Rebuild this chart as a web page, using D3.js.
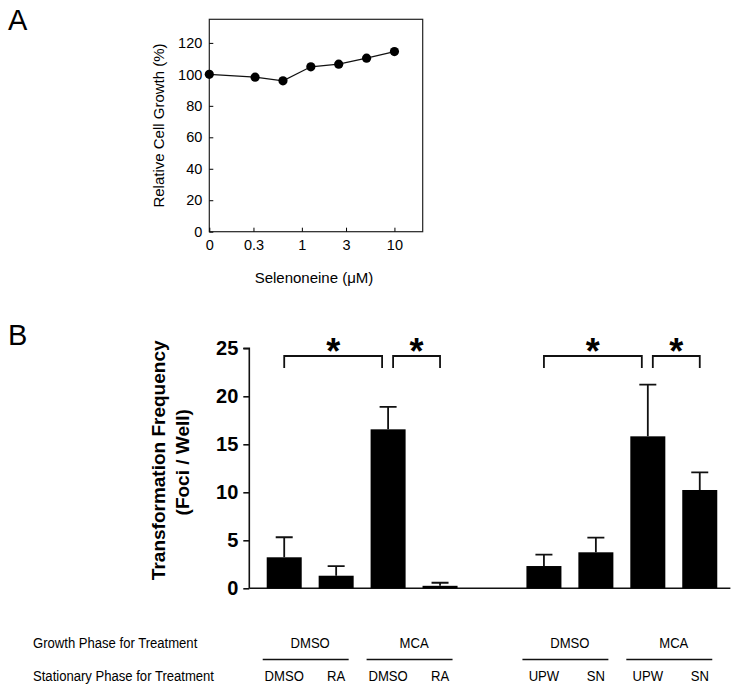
<!DOCTYPE html>
<html>
<head>
<meta charset="utf-8">
<script src="https://cdn.jsdelivr.net/npm/d3@7"></script>
<style>
  body { margin: 0; background: #fff; }
  svg { display: block; font-family: "Liberation Sans", Arial, sans-serif; }
</style>
</head>
<body>
<svg id="chart" width="740" height="687"></svg>
<script>
// Panel A: relative cell growth vs selenoneine
const concentrations = [0, 0.3125, 0.625, 1.25, 2.5, 5, 10];
const cellGrowth = [100, 98.2, 95.9, 104.8, 106.5, 110.3, 114.5];
const concTicks = [0, 0.3, 1, 3, 10];
const growthTicks = [0, 20, 40, 60, 80, 100, 120];

// Panel B: transformation frequency
const slots = ["s1", "s2", "s3", "s4", "gap", "s5", "s6", "s7", "s8"];
const barSlots = ["s1", "s2", "s3", "s4", "s5", "s6", "s7", "s8"];
const foci = [3.23, 1.31, 16.56, 0.26, 2.32, 3.75, 15.83, 10.24];
const fociSd = [2.09, 0.99, 2.34, 0.32, 1.18, 1.52, 5.38, 1.84];
const fociTicks = [0, 5, 10, 15, 20, 25];
const growthPhase = ["DMSO", "MCA", "DMSO", "MCA"];
const stationaryPhase = ["DMSO", "RA", "DMSO", "RA", "UPW", "SN", "UPW", "SN"];
const sigPairs = [["s1", "s3"], ["s3", "s4"], ["s5", "s7"], ["s7", "s8"]];

const svg = d3.select("#chart");

// ---------- Panel A ----------
const ax = { left: 209.3, right: 422.7, top: 19.3, bottom: 231.7 };
const xA = d3.scaleLog().domain([0.1, 20.2]).range([ax.left, ax.right]);
const xPos = v => xA(v === 0 ? 0.1 : v);
const yA = d3.scaleLinear().domain([0, 135]).range([ax.bottom, ax.top]);

svg.append("text").attr("x", 8).attr("y", 30)
  .attr("font-size", 29).text("A");

const gA = svg.append("g");
gA.append("rect")
  .attr("x", ax.left).attr("y", ax.top)
  .attr("width", ax.right - ax.left).attr("height", ax.bottom - ax.top)
  .attr("fill", "none").attr("stroke", "#222").attr("stroke-width", 1.2);

gA.append("g")
  .attr("transform", `translate(${ax.left},0)`)
  .call(d3.axisLeft(yA).tickValues(growthTicks).tickSize(-4).tickPadding(7))
  .call(g => g.select(".domain").remove())
  .call(g => g.selectAll("text").attr("font-size", 14.5).attr("font-family", "Liberation Sans"));

gA.append("g")
  .attr("transform", `translate(0,${ax.bottom})`)
  .call(d3.axisBottom(xA).tickValues(concTicks.map(v => v === 0 ? 0.1 : v))
    .tickFormat((d, i) => concTicks[i]).tickSize(-4).tickPadding(8))
  .call(g => g.select(".domain").remove())
  .call(g => g.selectAll("text").attr("font-size", 14.5).attr("font-family", "Liberation Sans"));

const ptsA = concentrations.map((c, i) => [c, cellGrowth[i]]);
gA.append("path")
  .datum(ptsA)
  .attr("fill", "none").attr("stroke", "#111").attr("stroke-width", 1.2)
  .attr("d", d3.line().x(d => xPos(d[0])).y(d => yA(d[1])));
gA.selectAll("circle").data(ptsA).join("circle")
  .attr("cx", d => xPos(d[0])).attr("cy", d => yA(d[1]))
  .attr("r", 4.6).attr("fill", "#000");

svg.append("text")
  .attr("transform", `translate(164,${(ax.top + ax.bottom) / 2}) rotate(-90)`)
  .attr("text-anchor", "middle").attr("font-size", 15)
  .text("Relative Cell Growth (%)");
svg.append("text")
  .attr("x", 314).attr("y", 283)
  .attr("text-anchor", "middle").attr("font-size", 15)
  .text("Selenoneine (\u03BCM)");

// ---------- Panel B ----------
const bx = { left: 249.3, right: 730.4, top: 348.3, bottom: 588.3 };
const xB = d3.scaleBand().domain(slots).range([bx.left, bx.right])
  .paddingInner(0.326).paddingOuter(0.294).align(0.57);
const yB = d3.scaleLinear().domain([0, 25]).range([bx.bottom, bx.top]);
const cx = s => xB(s) + xB.bandwidth() / 2;

svg.append("text").attr("x", 8).attr("y", 345)
  .attr("font-size", 29).text("B");

const gB = svg.append("g");
gB.append("g")
  .attr("transform", `translate(${bx.left},0)`)
  .call(d3.axisLeft(yB).tickValues(fociTicks).tickSize(6).tickPadding(5))
  .call(g => g.selectAll("line, path").attr("stroke", "#111").attr("stroke-width", 1.6))
  .call(g => g.select(".domain").attr("d", `M-6,${bx.top}H0V${bx.bottom}`))
  .call(g => g.selectAll("text").attr("font-size", 20).attr("font-weight", "bold")
    .attr("font-family", "Liberation Sans"));

gB.append("line")
  .attr("x1", bx.left).attr("x2", bx.right)
  .attr("y1", yB(0)).attr("y2", yB(0))
  .attr("stroke", "#111").attr("stroke-width", 1.6);

const bars = barSlots.map((s, i) => ({ slot: s, v: foci[i], sd: fociSd[i] }));

gB.selectAll(".err").data(bars).join("path")
  .attr("class", "err")
  .attr("fill", "none").attr("stroke", "#111").attr("stroke-width", 1.8)
  .attr("d", d => `M${cx(d.slot)},${yB(d.v)}V${yB(d.v + d.sd)}` +
    `M${cx(d.slot) - 8.5},${yB(d.v + d.sd)}H${cx(d.slot) + 8.5}`);

gB.selectAll(".bar").data(bars).join("rect")
  .attr("class", "bar")
  .attr("x", d => xB(d.slot)).attr("width", xB.bandwidth())
  .attr("y", d => yB(d.v)).attr("height", d => yB(0) - yB(d.v))
  .attr("fill", "#000");

// significance brackets
const brTop = yB(24.2), brEnd = yB(22.95);
sigPairs.forEach(([a, b], i) => {
  const x1 = cx(a) + (i % 2 === 1 ? 5 : 0);
  const x2 = cx(b) - (i % 2 === 0 ? 6 : 0);
  gB.append("path")
    .attr("fill", "none").attr("stroke", "#111").attr("stroke-width", 1.8)
    .attr("d", `M${x1},${brEnd}V${brTop}H${x2}V${brEnd}`);
  gB.append("text")
    .attr("x", (x1 + x2) / 2).attr("y", brTop + 8)
    .attr("text-anchor", "middle").attr("font-size", 36).attr("font-weight", "bold")
    .text("*");
});

svg.append("text")
  .attr("transform", `translate(165,${(bx.top + bx.bottom) / 2 - 8}) rotate(-90)`)
  .attr("text-anchor", "middle").attr("font-size", 19).attr("font-weight", "bold")
  .text("Transformation Frequency");
svg.append("text")
  .attr("transform", `translate(188.5,${(bx.top + bx.bottom) / 2 - 6}) rotate(-90)`)
  .attr("text-anchor", "middle").attr("font-size", 19).attr("font-weight", "bold")
  .text("(Foci / Well)");

// treatment table (narrow-looking text)
const tbl = svg.append("g").attr("font-size", 15.5);
const narrow = (x, y, anchor, txt) => tbl.append("text")
  .attr("transform", `translate(${x},${y}) scale(0.845,1)`)
  .attr("text-anchor", anchor).text(txt);

narrow(33, 648, "start", "Growth Phase for Treatment");
narrow(33, 680.5, "start", "Stationary Phase for Treatment");

growthPhase.forEach((g, i) => {
  const a = barSlots[i * 2], b = barSlots[i * 2 + 1];
  const mid = (cx(a) + cx(b)) / 2;
  narrow(mid, 648, "middle", g);
  tbl.append("line")
    .attr("x1", xB(a) - 4).attr("x2", xB(b) + xB.bandwidth() - 5)
    .attr("y1", 659.5).attr("y2", 659.5)
    .attr("stroke", "#111").attr("stroke-width", 1.6);
});
stationaryPhase.forEach((s, i) => {
  narrow(cx(barSlots[i]), 680.5, "middle", s);
});
</script>
</body>
</html>
